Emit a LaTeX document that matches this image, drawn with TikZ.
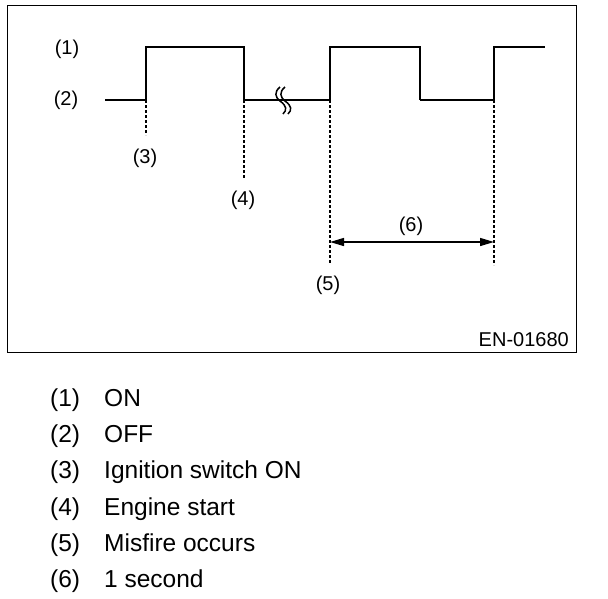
\documentclass[tikz,border=0pt]{standalone}
\usepackage{fontspec}
\setmainfont{Liberation Sans}
\usetikzlibrary{arrows.meta}
\begin{document}
\begin{tikzpicture}[x=1pt,y=-1pt,
  sig/.style={line width=1.8pt, line join=miter},
  lowline/.style={line width=1.1pt},
  guide/.style={line width=1.3pt, dash pattern=on 3pt off 2pt},
  lbl/.style={font=\fontsize{20}{24}\selectfont, inner sep=0pt},
  leg/.style={font=\fontsize{24.5}{28}\selectfont, inner sep=0pt, anchor=base west}]
\useasboundingbox (0,0) rectangle (608,598);
\node[draw, line width=1.2pt, minimum width=569pt, minimum height=347pt, inner sep=0pt, anchor=north west] (frame) at (7,5) {};
% signal coordinates
\coordinate (s0) at (105,100);
\coordinate (a) at (146,100);
\coordinate (a1) at (146,47);
\coordinate (b1) at (244,47);
\coordinate (b) at (244,100);
\coordinate (c) at (330,100);
\coordinate (c1) at (330,47);
\coordinate (d1) at (420,47);
\coordinate (d) at (420,100);
\coordinate (e) at (494,100);
\coordinate (e1) at (494,47);
\coordinate (f1) at (545,47);
\draw[lowline] (s0) -- (a);
\draw[sig] (a) -- (a1) -- (b1) -- (b);
\draw[lowline] (b) -- (c);
\draw[sig] (c) -- (c1) -- (d1) -- (d);
\draw[lowline] (d) -- (e);
\draw[sig] (e) -- (e1) -- (f1);
% break mark
\foreach \dx in {0,5}{
\draw[line width=1.5pt, xshift=\dx pt] (280,87) .. controls (274,92) and (275,97) .. (280,101) .. controls (287,106) and (287,110) .. (283,114);
}
% guide lines
\coordinate (ga) at (146,135);
\coordinate (gb) at (244,178);
\coordinate (gc) at (330,263);
\coordinate (ge) at (494,265);
\draw[guide] (a) -- (ga);
\draw[guide] (b) -- (gb);
\draw[guide] (c) -- (gc);
\draw[guide] (e) -- (ge);
% arrow
\coordinate (arL) at (330,242);
\coordinate (arR) at (494,242);
\draw[line width=1.4pt, {Triangle[length=14pt,width=8pt]}-{Triangle[length=14pt,width=8pt]}] (arL) -- (arR);
% labels
\node[lbl] (l1) at (67,49) {(1)};
\node[lbl] (l2) at (66,100) {(2)};
\node[lbl] (l3) at (145,158) {(3)};
\node[lbl] (l4) at (243,200) {(4)};
\node[lbl] (l5) at (328,285) {(5)};
\node[lbl] (l6) at (411,226) {(6)};
\node[lbl, anchor=east] (code) at (569,340) {EN-01680};
% legend
\foreach \n/\t/\y in {1/ON/406,2/OFF/442,3/Ignition switch ON/478,4/Engine start/515,5/Misfire occurs/551,6/1 second/587}{
  \node[leg] (n\n) at (50,\y) {(\n)};
  \node[leg] (t\n) at (104,\y) {\t};
}
\end{tikzpicture}
\end{document}
